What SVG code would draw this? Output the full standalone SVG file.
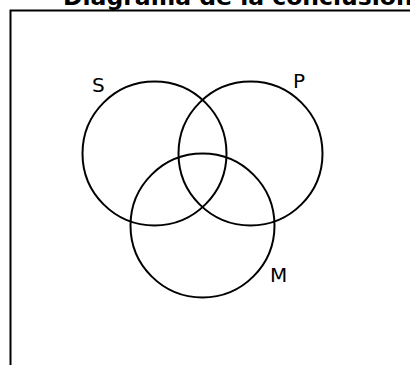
<svg xmlns="http://www.w3.org/2000/svg" width="410" height="365" viewBox="0 0 410 365">
<style>
.set{fill:none;stroke:#000;stroke-width:2}
.lbl{font-family:"DejaVu Sans",sans-serif;font-size:20px;fill:#000}
.title{font-family:"DejaVu Sans",sans-serif;font-size:23.5px;font-weight:bold;fill:#000}
</style>
<rect width="410" height="365" fill="#fff"/>
<text class="title" x="63" y="5">Diagrama de la conclusión</text>
<rect x="10.5" y="10.5" width="430" height="400" fill="none" stroke="#000" stroke-width="2"/>
<g id="S"><circle class="set" cx="154.5" cy="153.5" r="72"/><text class="lbl" x="92" y="92">S</text></g>
<g id="P"><circle class="set" cx="250.5" cy="153.5" r="72"/><text class="lbl" x="293" y="88">P</text></g>
<g id="M"><circle class="set" cx="202.5" cy="225.5" r="72"/><text class="lbl" x="270" y="282">M</text></g>
<g id="connectors"/>
</svg>
